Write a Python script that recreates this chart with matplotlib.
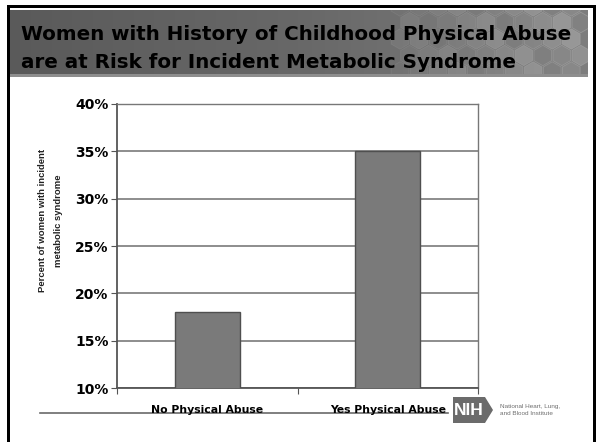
import matplotlib.pyplot as plt
import numpy as np
from matplotlib.colors import LinearSegmentedColormap
from matplotlib.patches import Polygon, Rectangle, RegularPolygon
from matplotlib.ticker import FixedLocator, FuncFormatter

# values (percent of women with incident metabolic syndrome)
CATEGORIES = ["No Physical Abuse", "Yes Physical Abuse"]
PERCENTS = [18, 35]
Y_TICKS = [10, 15, 20, 25, 30, 35, 40]

TITLE_LINES = ["Women with History of Childhood Physical Abuse",
               "are at Risk for Incident Metabolic Syndrome"]
Y_LABEL = "Percent of women with incident\nmetabolic syndrome"

W, H = 596, 442
BAR_COLOR = "#7a7a7a"
BAR_EDGE = "#4f4f4f"
GRID_COLOR = "#6f6f6f"

fig = plt.figure(figsize=(W / 100, H / 100), dpi=100)
fig.patch.set_facecolor("white")

# slide background: pixel coordinates, y pointing down
bg = fig.add_axes([0, 0, 1, 1], zorder=0)
bg.set_xlim(0, W)
bg.set_ylim(H, 0)
bg.axis("off")

# header band with horizontal gradient
grad = np.linspace(0, 1, 256)
band = np.vstack([grad, grad])
hdr_cmap = LinearSegmentedColormap.from_list("hdr", ["#5a5a5a", "#686868", "#7e7e7e"])
bg.imshow(band, cmap=hdr_cmap, extent=(9, 588, 76, 10), aspect="auto", zorder=1)
bg.add_patch(Rectangle((9, 74), 579, 3, color="#8e8e8e", lw=0, zorder=2))

# honeycomb decoration on the right of the header
hdr_clip = Rectangle((9, 10), 579, 64, facecolor="none", edgecolor="none")
bg.add_patch(hdr_clip)
r = 11
for row in range(6):
    for col in range(10):
        cx = 400 + col * r * 1.73 + (row % 2) * r * 0.87
        cy = 6 + row * r * 1.5
        fade = np.clip((cx - 400) / 180, 0, 1)
        tone = 0.52 + 0.16 * ((row * 3 + col) % 4) / 3
        hx = RegularPolygon((cx, cy), 6, radius=r * 0.93, orientation=0,
                            facecolor=str(tone), edgecolor="#a8a8a8", lw=0.6,
                            alpha=0.18 + 0.4 * fade, zorder=3)
        bg.add_patch(hx)
        hx.set_clip_path(hdr_clip)

for i, line in enumerate(TITLE_LINES):
    bg.text(21, 35 + i * 28, line, fontsize=14.3, fontweight="bold",
            family="DejaVu Sans", color="black", va="center", ha="left",
            zorder=5)

# black slide frame
bg.add_patch(Rectangle((7, 5), W - 7, 2.5, color="black", lw=0, zorder=6))
bg.add_patch(Rectangle((7, 5), 2.5, H - 5, color="black", lw=0, zorder=6))
bg.add_patch(Rectangle((592.5, 5), 3.5, H - 5, color="black", lw=0, zorder=6))

# rule under the category labels
bg.plot([40, 448], [413, 413], color="#6a6a6a", lw=1.2, zorder=2)

# NIH logo
bg.add_patch(Polygon([(453, 397), (485, 397), (493, 410), (485, 423), (453, 423)],
                     closed=True, facecolor="#6b6b6b", edgecolor="none", zorder=4))
bg.text(469, 410.5, "NIH", fontsize=12.5, fontweight="bold", family="Liberation Sans",
        color="white", ha="center", va="center", zorder=5)
bg.text(500, 410, "National Heart, Lung,\nand Blood Institute", fontsize=4.6,
        family="Liberation Sans", color="#6f6f6f", ha="left", va="center",
        linespacing=1.3, zorder=5)

# chart
ax = fig.add_axes([117 / W, 1 - 388 / H, (478 - 117) / W, (388 - 104) / H], zorder=2)
ax.set_facecolor("white")
x = np.arange(len(CATEGORIES))
ax.bar(x, PERCENTS, width=0.36, color=BAR_COLOR, edgecolor=BAR_EDGE, lw=1.0, zorder=3)

ax.set_xlim(-0.5, len(CATEGORIES) - 0.5)
ax.set_ylim(Y_TICKS[0], Y_TICKS[-1])
ax.set_yticks(Y_TICKS)
ax.yaxis.set_major_formatter(FuncFormatter(lambda v, _: f"{v:.0f}%"))
ax.grid(axis="y", color=GRID_COLOR, lw=1.1, zorder=1)
ax.set_axisbelow(True)

ax.xaxis.set_major_locator(FixedLocator([-0.5, 0.5, 1.5]))
ax.xaxis.set_minor_locator(FixedLocator(list(x)))
ax.set_xticklabels([])
ax.set_xticklabels(CATEGORIES, minor=True, fontsize=7.8, fontweight="bold",
                   family="DejaVu Sans")
ax.tick_params(axis="x", which="major", direction="out", length=4, color="#555555")
ax.tick_params(axis="x", which="minor", length=0, pad=12)
ax.tick_params(axis="y", direction="out", length=4, color="#555555", pad=2,
               labelsize=10)
for lbl in ax.get_yticklabels():
    lbl.set_fontweight("bold")

for side in ["left", "bottom"]:
    ax.spines[side].set_color("#555555")
    ax.spines[side].set_linewidth(1.3)
for side in ["top", "right"]:
    ax.spines[side].set_color("#777777")
    ax.spines[side].set_linewidth(1.0)

ax.set_ylabel(Y_LABEL, fontsize=6.8, fontweight="bold", family="Liberation Sans",
              color="#222222", linespacing=2.0)
ax.yaxis.label.set_va("center")
ax.yaxis.set_label_coords(-0.183, 0.59)

fig.savefig("out.png", dpi=100)
